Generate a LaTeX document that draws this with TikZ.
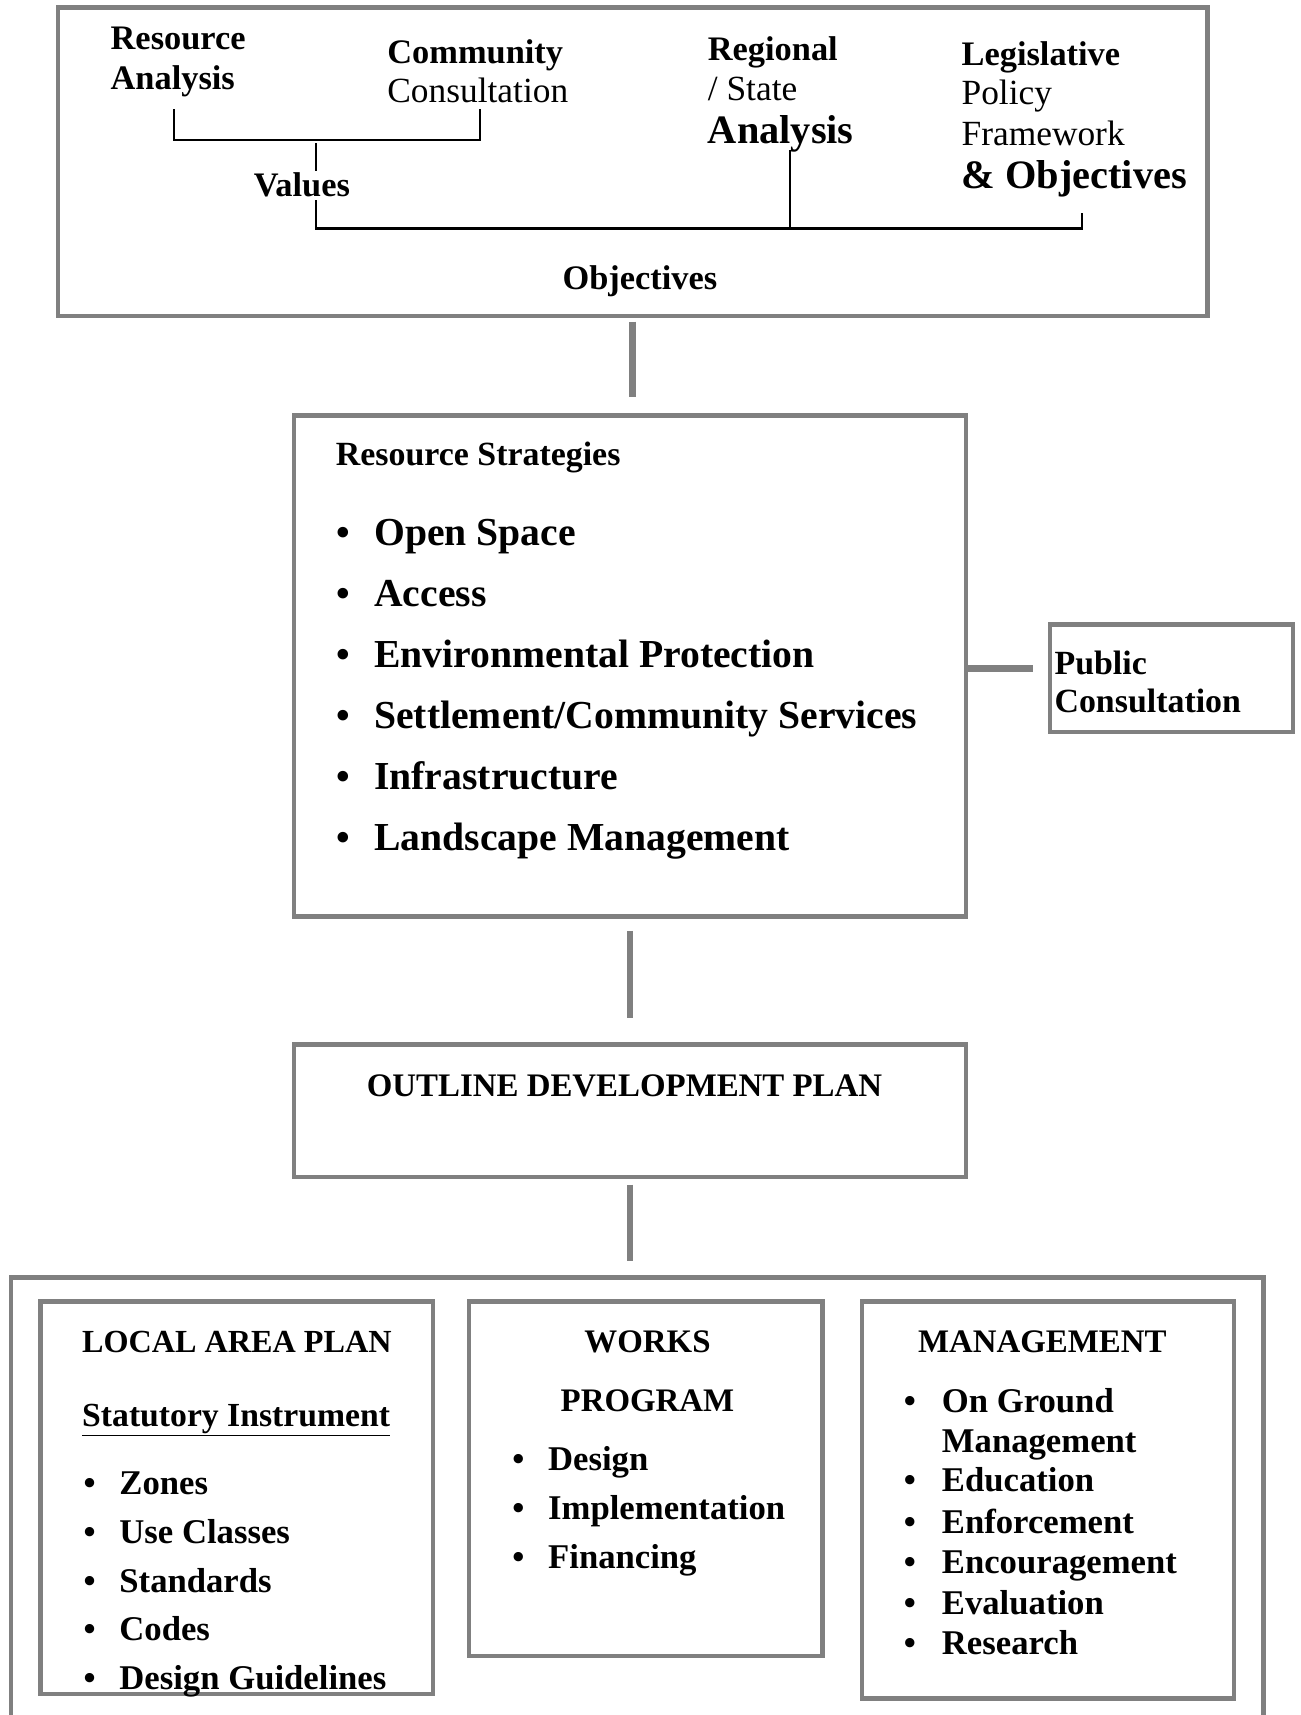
\documentclass[tikz,border=0pt]{standalone}
\usepackage{fontspec}
\setmainfont{Liberation Serif}
\usetikzlibrary{fit}
\definecolor{boxgray}{HTML}{808080}
\begin{document}
\begin{tikzpicture}[x=1.0934bp,y=-1.0934bp,
  gbox/.style={draw=boxgray, line width=4.4bp, inner sep=0pt},
  conn/.style={draw=boxgray, line width=6.5bp},
  brk/.style={draw=black, line width=2.2bp},
  txt/.style={inner sep=0pt, anchor=base west, yshift=-1.8bp},
  fTop/.style={txt, font=\fontsize{34.5}{40}\selectfont\bfseries},
  fTopR/.style={txt, font=\fontsize{35.5}{40}\selectfont},
  fBig/.style={txt, font=\fontsize{40.5}{46}\selectfont\bfseries},
  fItem/.style={txt, font=\fontsize{39.8}{45}\selectfont\bfseries},
  fMid/.style={txt, font=\fontsize{34}{40}\selectfont\bfseries},
  fCap/.style={txt, font=\fontsize{33}{40}\selectfont\bfseries},
  fBot/.style={txt, font=\fontsize{34.8}{40}\selectfont\bfseries},
  bul/.style={inner sep=0pt, anchor=base, yshift=-1.8bp},
]
\useasboundingbox (0,0) rectangle (1189,1568);
\clip (0,0) rectangle (1189,1568);

% ---------- boxes ----------
\node[gbox, fit={(53,7) (1104,289)}] (topbox) {};
\node[gbox, fit={(269,380) (883,838)}] (strat) {};
\node[gbox, fit={(960,571) (1182,669)}] (pub) {};
\node[gbox, fit={(269,955) (883,1076)}] (outline) {};
\node[gbox, fit={(10,1168) (1155,1620)}] (outer) {};
\node[gbox, fit={(37,1190) (396,1549)}] (lap) {};
\node[gbox, fit={(429,1190) (752,1514)}] (works) {};
\node[gbox, fit={(788,1190) (1128,1553)}] (mgmt) {};

% ---------- top box texts ----------
\node[fTop] (ra1) at (101,44) {Resource};
\node[fTop] (ra2) at (101,80) {Analysis};
\node[fTop] (cc1) at (354,56) {Community};
\node[fTopR] (cc2) at (354,92) {Consultation};
\node[fTop] (rs1) at (647,54) {Regional};
\node[fTopR] (rs2) at (647,90) {/ State};
\node[fBig] (rs3) at (647,130) {Analysis};
\node[fTop] (lp1) at (879,58) {Legislative};
\node[fTopR] (lp2) at (879,94) {Policy};
\node[fTopR] (lp3) at (879,131) {Framework};
\node[fBig] (lp4) at (879,171) {\&~Objectives};
\node[fTop, anchor=base] (values) at (276,178) {Values};
\node[fTop, anchor=base] (objectives) at (585,263) {Objectives};

% bracket coordinates
\coordinate (b1a) at (159,100);
\coordinate (b1b) at (159,128);
\coordinate (b1c) at (439,128);
\coordinate (b1d) at (439,100);
\coordinate (v1a) at (289,131);
\coordinate (v1b) at (289,156);
\coordinate (v2a) at (289,183);
\coordinate (v2b) at (289,209);
\coordinate (h2r) at (989,209);
\coordinate (h2rt) at (989,195);
\coordinate (m1) at (722,137);
\coordinate (m2) at (722,209);

\draw[brk] (b1a) -- (b1b) -- (b1c) -- (b1d);
\draw[brk] (v1a) -- (v1b);
\draw[brk] (v2a) -- (v2b) -- (h2r) -- (h2rt);
\draw[brk] (m1) -- (m2);

% ---------- resource strategies ----------
\node[fMid] (rstitle) at (307,424) {Resource Strategies};
\foreach \t [count=\i] in {Open Space, Access, Environmental Protection, Settlement/Community Services, Infrastructure, Landscape Management} {
  \node[fItem] (si\i) at (342,{497+55.8*(\i-1)}) {\t};
  \node[bul, font=\fontsize{39}{45}\selectfont\bfseries] (sb\i) at (314,{497+55.8*(\i-1)}) {\textbullet};
}

% ---------- public consultation ----------
\node[fMid] (pc1) at (964,615) {Public};
\node[fMid] (pc2) at (964,650) {Consultation};

% ---------- outline ----------
\node[fCap, anchor=base] (odp) at (571,1001) {OUTLINE DEVELOPMENT PLAN};

% ---------- local area plan ----------
\node[fCap, font=\fontsize{32.3}{40}\selectfont\bfseries] (lapt) at (75,1235) {LOCAL AREA PLAN};
\node[fBot, font=\fontsize{33.8}{40}\selectfont\bfseries] (stat) at (75,1303) {\underline{Statutory Instrument}};
\foreach \t [count=\i] in {Zones, Use Classes, Standards, Codes, Design Guidelines} {
  \node[fBot] (li\i) at (109,{1365+44.5*(\i-1)}) {\t};
  \node[bul, font=\fontsize{34.5}{40}\selectfont\bfseries] (lb\i) at (82,{1365+44.5*(\i-1)}) {\textbullet};
}

% ---------- works program ----------
\node[fCap, anchor=base] (wk1) at (592,1235) {WORKS};
\node[fCap, anchor=base] (wk2) at (592,1289) {PROGRAM};
\foreach \t [count=\i] in {Design, Implementation, Financing} {
  \node[fBot] (wi\i) at (501,{1343+44.5*(\i-1)}) {\t};
  \node[bul, font=\fontsize{34.5}{40}\selectfont\bfseries] (wb\i) at (474,{1343+44.5*(\i-1)}) {\textbullet};
}

% ---------- management ----------
\node[fCap, anchor=base] (mgt) at (953,1235) {MANAGEMENT};
\node[fBot] (mi1) at (861,1290) {On Ground};
\node[fBot] (mi1b) at (861,1326) {Management};
\node[bul, font=\fontsize{34.5}{40}\selectfont\bfseries] (mb1) at (832,1290) {\textbullet};
\foreach \t/\y [count=\i from 2] in {Education/1362, Enforcement/1400, Encouragement/1437, Evaluation/1474, Research/1511} {
  \node[fBot] (mi\i) at (861,\y) {\t};
  \node[bul, font=\fontsize{34.5}{40}\selectfont\bfseries] (mb\i) at (832,\y) {\textbullet};
}

% ---------- connectors ----------
\draw[conn, shorten <=3.3bp, shorten >=16.4bp] (topbox.south) -- (topbox.south |- strat.north);
\draw[conn, shorten <=12bp, shorten >=24bp] (strat.south) -- (outline.north);
\draw[conn, shorten <=5.5bp, shorten >=14.2bp] (outline.south) -- (outline.south |- outer.north);
\draw[conn, shorten >=15.3bp] ([yshift=9.8bp]pub.west -| strat.east) -- ([yshift=9.8bp]pub.west);
\end{tikzpicture}
\end{document}
